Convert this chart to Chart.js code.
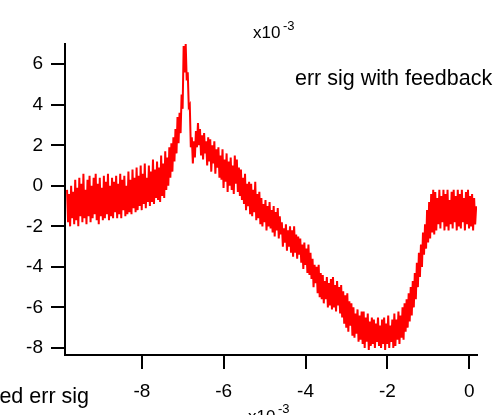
<!DOCTYPE html>
<html>
<head>
<meta charset="utf-8">
<script src="https://cdn.jsdelivr.net/npm/chart.js@4.4.0/dist/chart.umd.min.js"></script>
<style>
  html, body { margin: 0; padding: 0; background: #fff; }
  canvas { display: block; }
</style>
</head>
<body>
<canvas id="canvas" width="500" height="415"></canvas>
<script>
// x axis in units of 1e-3, sampled every 0.025
var xStart = -9.83;
var xStep = 0.025;

// err sig with feedback (x10^-3)
var errSig = [
  -0.2, -1.8, -0.4, -2.0, 0.0, -1.6, -0.3, -1.9, 0.3, -1.7,
  -0.1, -2.0, 0.4, -1.5, 0.1, -1.8, 0.6, -1.6, -0.2, -1.9,
  0.3, -1.5, 0.5, -1.8, 0.0, -1.6, 0.4, -1.4, 0.6, -1.7,
  0.1, -1.9, 0.4, -1.5, -0.1, -1.7, 0.5, -1.6, 0.2, -1.4,
  0.6, -1.7, 0.0, -1.5, 0.4, -1.6, 0.2, -1.3, 0.5, -1.6,
  0.1, -1.4, 0.6, -1.6, 0.3, -1.2, 0.5, -1.5, 0.0, -1.4,
  0.7, -1.3, 0.3, -1.4, 0.8, -1.1, 0.4, -1.3, 0.9, -1.2,
  0.5, -1.0, 1.0, -1.2, 0.6, -0.9, 1.1, -1.1, 0.4, -0.8,
  1.0, -1.0, 0.7, -0.8, 1.3, -0.9, 0.8, -0.6, 1.2, -0.7,
  0.9, -0.8, 1.5, -0.5, 1.1, -0.6, 1.7, -0.2, 1.4, 0.0,
  1.9, 0.4, 2.1, 0.7, 2.4, 1.2, 2.8, 1.6, 3.4, 2.1,
  3.6, 2.6, 4.5, 3.8, 6.9, 5.6, 7.0, 5.2, 5.6, 3.9,
  4.0, 1.9, 2.4, 1.1, 2.2, 1.4, 2.7, 1.9, 3.1, 2.0,
  2.8, 1.5, 2.5, 1.3, 2.6, 1.6, 2.2, 1.0, 2.4, 1.2,
  2.3, 0.7, 2.0, 1.1, 2.2, 0.6, 1.8, 0.9, 1.9, 0.4,
  1.5, 0.3, 1.8, -0.1, 1.3, 0.2, 1.6, -0.3, 1.2, 0.0,
  1.4, -0.2, 1.0, -0.4, 1.5, 0.1, 1.3, -0.3, 0.9, -0.5,
  0.8, -0.7, 0.4, -0.9, 0.6, -1.2, 0.1, -1.0, 0.2, -1.4,
  0.1, -1.5, -0.2, -1.3, 0.2, -1.7, -0.4, -1.6, -0.3, -1.9,
  -0.6, -2.0, -0.9, -1.8, -0.7, -2.2, -1.0, -2.0, -0.8, -2.1,
  -1.2, -2.3, -1.0, -2.5, -1.3, -2.2, -1.1, -2.6, -1.5, -2.4,
  -1.8, -3.0, -2.1, -2.8, -1.9, -3.2, -2.2, -3.0, -2.0, -3.3,
  -2.2, -3.5, -2.0, -3.3, -2.4, -3.6, -2.5, -3.4, -2.6, -3.8,
  -2.9, -4.1, -2.8, -3.9, -3.1, -4.3, -2.9, -4.4, -3.3, -4.6,
  -3.6, -5.0, -3.9, -4.8, -4.0, -5.3, -3.9, -5.5, -4.3, -5.6,
  -4.4, -5.8, -4.7, -5.6, -4.5, -6.0, -4.8, -5.9, -4.6, -6.1,
  -4.5, -6.0, -4.9, -6.2, -4.7, -5.9, -5.0, -6.3, -4.9, -6.5,
  -5.2, -6.8, -5.4, -7.0, -5.3, -7.2, -5.7, -6.9, -5.8, -7.4,
  -6.0, -7.5, -6.3, -7.3, -6.1, -7.7, -6.4, -7.6, -6.2, -7.8,
  -6.2, -8.0, -6.5, -7.7, -6.3, -8.1, -6.7, -7.9, -6.5, -7.8,
  -6.6, -8.0, -6.8, -7.7, -6.5, -7.9, -6.9, -8.0, -6.6, -7.8,
  -6.5, -8.1, -6.8, -7.8, -6.4, -8.0, -6.9, -7.7, -6.6, -8.0,
  -6.3, -7.9, -6.6, -7.6, -6.2, -7.8, -6.4, -7.5, -6.0, -7.6,
  -5.8, -7.2, -5.6, -7.0, -5.3, -6.7, -5.0, -6.4, -4.7, -6.0,
  -4.3, -5.6, -3.8, -5.0, -3.3, -4.5, -2.9, -4.0, -2.3, -3.4,
  -1.9, -3.1, -1.2, -2.8, -0.8, -2.6, -0.4, -2.3, -0.2, -2.4,
  -0.3, -2.2, -0.6, -1.9, -0.2, -2.1, -0.5, -1.8, -0.2, -2.2,
  -0.4, -2.0, -0.2, -2.2, -0.7, -1.9, -0.3, -2.1, -0.2, -1.8,
  -0.5, -2.2, -0.2, -2.0, -0.4, -2.1, -0.2, -1.8, -0.6, -2.2,
  -0.3, -1.9, -0.2, -2.1, -0.5, -2.0, -0.4, -2.2, -0.6, -1.9,
  -1.0
];

var xTicks = [-8, -6, -4, -2, 0];
var yTicks = [-8, -6, -4, -2, 0, 2, 4, 6];

var points = errSig.map(function(v, i) {
    return { x: xStart + i * xStep, y: v };
});

var FONT = '"Liberation Sans", Arial, sans-serif';

// extra text round the plot
var labelsPlugin = {
    id: 'labels',
    afterDraw: function(chart) {
        var ctx = chart.ctx;
        ctx.save();
        ctx.fillStyle = '#000';
        ctx.textBaseline = 'alphabetic';

        ctx.font = '21.5px ' + FONT;
        ctx.textAlign = 'left';
        ctx.fillText('err sig with feedback', 295, 85);

        ctx.textAlign = 'right';
        ctx.fillText('ed err sig', 89, 403);

        // x10^-3 on the y axis (top) and the x axis (bottom)
        ctx.textAlign = 'left';
        ctx.font = '17px ' + FONT;
        ctx.fillText('x10', 253, 38);
        ctx.fillText('x10', 248, 422);
        ctx.font = '13px ' + FONT;
        ctx.fillText('-3', 283, 30);
        ctx.fillText('-3', 278, 413);
        ctx.restore();
    }
};

var ctx = document.getElementById('canvas').getContext('2d');
var chart = new Chart(ctx, {
    type: 'line',
    data: {
        datasets: [{
            label: 'err sig with feedback',
            data: points,
            borderColor: '#ff0000',
            borderWidth: 2,
            pointRadius: 0,
            fill: false,
            tension: 0
        }]
    },
    options: {
        responsive: false,
        animation: false,
        layout: { padding: { left: 0, top: 44, right: 23, bottom: 0 } },
        plugins: {
            legend: { display: false },
            tooltip: { enabled: false }
        },
        scales: {
            x: {
                type: 'linear',
                min: -9.88,
                max: 0.19,
                afterBuildTicks: function(scale) {
                    scale.ticks = xTicks.map(function(v) { return { value: v }; });
                },
                afterFit: function(scale) { scale.height = 60; },
                border: { display: true, color: '#000', width: 2 },
                grid: { display: true, drawOnChartArea: false, tickLength: 14, color: '#000', lineWidth: 2 },
                ticks: {
                    color: '#000',
                    font: { family: FONT, size: 19 },
                    padding: 11,
                    maxRotation: 0
                }
            },
            y: {
                type: 'linear',
                min: -8.35,
                max: 7.0,
                afterBuildTicks: function(scale) {
                    scale.ticks = yTicks.map(function(v) { return { value: v }; });
                },
                afterFit: function(scale) { scale.width = 65; },
                border: { display: true, color: '#000', width: 2 },
                grid: { display: true, drawOnChartArea: false, tickLength: 14, color: '#000', lineWidth: 2 },
                ticks: {
                    color: '#000',
                    font: { family: FONT, size: 19 },
                    padding: 8
                }
            }
        }
    },
    plugins: [labelsPlugin]
});
</script>
</body>
</html>
